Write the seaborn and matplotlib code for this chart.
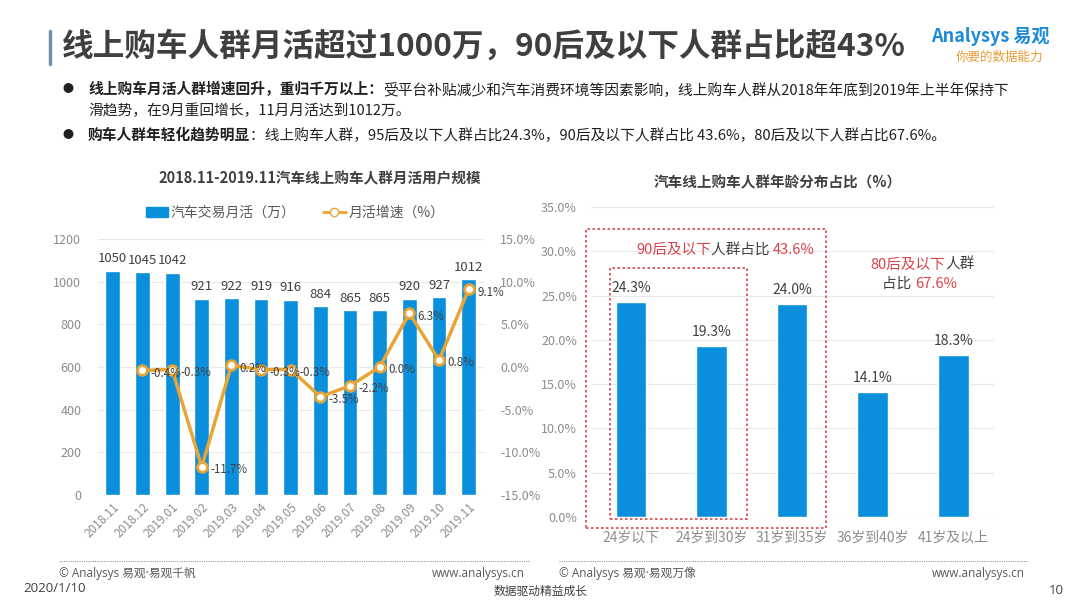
import numpy as np
import pandas as pd
import matplotlib.pyplot as plt
import matplotlib.patches as mpatches
import matplotlib.lines as mlines
from matplotlib.ticker import FuncFormatter
import seaborn as sns

# 月活数据
months = ['2018.11', '2018.12', '2019.01', '2019.02', '2019.03', '2019.04', '2019.05',
          '2019.06', '2019.07', '2019.08', '2019.09', '2019.10', '2019.11']
mau = [1050, 1045, 1042, 921, 922, 919, 916, 884, 865, 865, 920, 927, 1012]
growth = [np.nan, -0.4, -0.3, -11.7, 0.2, -0.3, -0.3, -3.5, -2.2, 0.0, 6.3, 0.8, 9.1]

# 年龄分布
ages = ['24岁以下', '24岁到30岁', '31岁到35岁', '36岁到40岁', '41岁及以上']
age_share = [24.3, 19.3, 24.0, 14.1, 18.3]

BLUE = '#0A8FDC'
GOLD = '#E8A535'
RED = '#D9434B'
DARK = '#404040'
GREY = '#8c8c8c'
FOOT = ['Open Sans', 'Noto Sans CJK SC']

sns.set_style('white')
plt.rcParams['font.family'] = ['Noto Sans CJK SC', 'DejaVu Sans']
plt.rcParams['axes.unicode_minus'] = False

fig = plt.figure(figsize=(10.8, 6.08), dpi=100)
fig.patch.set_facecolor('white')

# 背景层, 像素坐标
bg = fig.add_axes([0, 0, 1, 1], zorder=-1)
bg.set_xlim(0, 1080)
bg.set_ylim(608, 0)
bg.axis('off')


def rich(ax, x, y, parts, size):
    s, c, w = parts[0]
    t = ax.text(x, y, s, color=c, fontweight=w, fontsize=size, ha='left', va='center')
    for s, c, w in parts[1:]:
        t = ax.annotate(s, xy=(1, 0), xycoords=t, xytext=(0, 0), textcoords='offset points',
                        ha='left', va='bottom', color=c, fontweight=w, fontsize=size)
    return t


# 标题
bg.add_line(mlines.Line2D([50, 50], [31, 64], color='#6f8faf', lw=2.5))
bg.text(62, 47, '线上购车人群月活超过1000万，90后及以下人群占比超43%', fontsize=22.8,
        fontweight='bold', color='#3f3f3f', ha='left', va='center')
bg.text(990, 37, 'Analysys 易观', fontsize=13, color='#1C8AD6', fontweight='bold',
        ha='center', va='center', style='italic')
bg.text(1000, 57, '你要的数据能力', fontsize=9, color='#E89A2E', ha='center', va='center',
        style='italic')

# 要点
bg.text(68, 89, '●', fontsize=8, color='#202020', ha='center', va='center')
bg.text(68, 135, '●', fontsize=8, color='#202020', ha='center', va='center')
rich(bg, 88, 89, [('线上购车月活人群增速回升，重归千万以上：', '#202020', 'bold'),
                  ('受平台补贴减少和汽车消费环境等因素影响，线上购车人群从2018年年底到2019年上半年保持下',
                   '#202020', 'normal')], 10.6)
bg.text(88, 111, '滑趋势，在9月重回增长，11月月活达到1012万。', fontsize=10.6, color='#202020',
        ha='left', va='center')
rich(bg, 88, 135, [('购车人群年轻化趋势明显', '#202020', 'bold'),
                   ('：线上购车人群，95后及以下人群占比24.3%，90后及以下人群占比 43.6%，80后及以下人群占比67.6%。',
                    '#202020', 'normal')], 10.6)

# 左图: 月活
df1 = pd.DataFrame({'month': months, 'mau': mau, 'growth': growth})
df1['pos'] = np.arange(len(df1))

ax1 = fig.add_axes([0.0907, 0.1859, 0.357, 0.421])
sns.barplot(data=df1, x='month', y='mau', color=BLUE, saturation=1, width=0.5, ax=ax1)
ax1.bar_label(ax1.containers[0], fmt='%d', padding=4, fontsize=9.5, color=DARK)
ax1.set_ylim(0, 1200)
ax1.set_yticks(range(0, 1201, 200))
ax1.set_xlim(-0.5, 12.5)
ax1.set_xlabel('')
ax1.set_ylabel('')
ax1.yaxis.grid(True, color='#e9e9e9', lw=0.8)
ax1.set_axisbelow(True)
ax1.tick_params(axis='y', length=0, labelsize=9, colors=GREY, pad=12)
ax1.tick_params(axis='x', length=0, labelsize=8.5, colors=GREY, pad=4)
plt.setp(ax1.get_xticklabels(), rotation=45, ha='right', rotation_mode='anchor')
sns.despine(ax=ax1, left=True, bottom=True)

ax2 = ax1.twinx()
sns.lineplot(data=df1, x='pos', y='growth', ax=ax2, color=GOLD, lw=2.5, marker='o',
             markersize=7, markerfacecolor='white', markeredgecolor=GOLD, markeredgewidth=2)
for i, g in zip(df1['pos'], df1['growth']):
    if not np.isnan(g):
        ax2.annotate(f'{g:.1f}%', (i, g), xytext=(6, -2), textcoords='offset points',
                     ha='left', va='center', fontsize=8.3, color=DARK)
ax2.set_ylim(-15, 15)
ax2.set_yticks(range(-15, 16, 5))
ax2.yaxis.set_major_formatter(FuncFormatter(lambda v, p: f'{v:.1f}%'))
ax2.set_xlim(-0.5, 12.5)
ax2.set_ylabel('')
ax2.tick_params(axis='y', length=0, labelsize=9, colors=GREY, pad=12)
for sp in ax2.spines.values():
    sp.set_visible(False)

bg.text(320, 178, '2018.11-2019.11汽车线上购车人群月活用户规模', fontsize=10.5,
        fontweight='bold', color=DARK, ha='center', va='center')
h_bar = mpatches.Patch(color=BLUE, label='汽车交易月活（万）')
h_line = mlines.Line2D([], [], color=GOLD, lw=2, marker='o', markersize=6,
                       markerfacecolor='white', markeredgecolor=GOLD, label='月活增速（%）')
fig.legend(handles=[h_bar, h_line], loc='center', bbox_to_anchor=(295 / 1080, 1 - 213 / 608),
           ncol=2, frameon=False, fontsize=10, labelcolor='#595959', handlelength=1.6,
           handletextpad=0.2, columnspacing=2.0)

# 右图: 年龄分布
df2 = pd.DataFrame({'age': ages, 'share': age_share})
ax3 = fig.add_axes([0.547, 0.1497, 0.373, 0.5099])
sns.barplot(data=df2, x='age', y='share', color=BLUE, saturation=1, width=0.38, ax=ax3)
ax3.bar_label(ax3.containers[0], fmt='%.1f%%', padding=5, fontsize=10, color=DARK)
ax3.set_ylim(0, 35)
ax3.set_yticks(range(0, 36, 5))
ax3.yaxis.set_major_formatter(FuncFormatter(lambda v, p: f'{v:.1f}%'))
ax3.set_xlim(-0.5, 4.5)
ax3.set_xlabel('')
ax3.set_ylabel('')
ax3.yaxis.grid(True, color='#e9e9e9', lw=0.8)
ax3.set_axisbelow(True)
ax3.tick_params(axis='y', length=0, labelsize=9, colors=GREY, pad=10)
ax3.tick_params(axis='x', length=0, labelsize=10, colors=GREY, pad=10)
sns.despine(ax=ax3, left=True, bottom=True)

ax3.add_patch(mpatches.Rectangle((-0.56, -1.24), 2.98, 33.74, fill=False, ec=RED,
                                 ls=(0, (1.5, 1.5)), lw=1.2, clip_on=False))
ax3.add_patch(mpatches.Rectangle((-0.26, -0.23), 1.70, 28.33, fill=False, ec=RED,
                                 ls=(0, (1.5, 1.5)), lw=1.2, clip_on=False))
rich(ax3, 0.06, 30.1, [('90后及以下', RED, 'normal'), ('人群占比 ', DARK, 'normal'),
                       ('43.6%', RED, 'normal')], 10.5)
rich(ax3, 2.97, 28.5, [('80后及以下', RED, 'normal'), ('人群', DARK, 'normal')], 10.5)
rich(ax3, 3.12, 26.3, [('占比 ', DARK, 'normal'), ('67.6%', RED, 'normal')], 10.5)

bg.text(778, 182, '汽车线上购车人群年龄分布占比（%）', fontsize=10.5, fontweight='bold',
        color=DARK, ha='center', va='center')

# 页脚
bg.add_line(mlines.Line2D([59, 529], [561, 561], color='#999999', lw=0.8, ls=(0, (1, 1))))
bg.add_line(mlines.Line2D([559, 1028], [561, 561], color='#999999', lw=0.8, ls=(0, (1, 1))))
bg.text(59, 573, '© Analysys 易观·易观千帆', fontsize=8.5, color='#595959', ha='left',
        va='center', family=FOOT)
bg.text(525, 573, 'www.analysys.cn', fontsize=8.5, color='#595959', ha='right', va='center',
        family=FOOT)
bg.text(559, 573, '© Analysys 易观·易观万像', fontsize=8.5, color='#595959', ha='left',
        va='center', family=FOOT)
bg.text(1025, 573, 'www.analysys.cn', fontsize=8.5, color='#595959', ha='right', va='center',
        family=FOOT)
bg.text(23, 589, '2020/1/10', fontsize=9.5, color='#404040', ha='left', va='center', family=FOOT)
bg.text(541, 591, '数据驱动精益成长', fontsize=8.5, color='#404040', ha='center', va='center')
bg.text(1056, 591, '10', fontsize=9.5, color='#404040', ha='center', va='center', family=FOOT)

fig.savefig('out.png', dpi=100, facecolor='white')
